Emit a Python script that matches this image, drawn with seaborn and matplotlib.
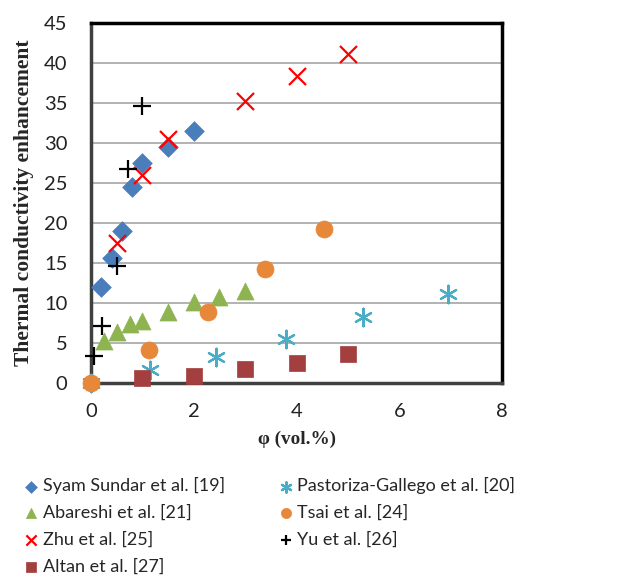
import numpy as np
import pandas as pd
import matplotlib
matplotlib.use("Agg")
import matplotlib.pyplot as plt
import seaborn as sns

# data
syam_x = [0.2, 0.4, 0.6, 0.8, 1.0, 1.5, 2.0]
syam_y = [12.0, 15.6, 19.0, 24.5, 27.5, 29.5, 31.5]

pastoriza_x = [0.0, 1.15, 2.43, 3.8, 5.3, 6.95]
pastoriza_y = [0.0, 1.6, 3.3, 5.5, 8.3, 11.2]

abareshi_x = [0.25, 0.5, 0.75, 1.0, 1.5, 2.0, 2.5, 3.0]
abareshi_y = [5.3, 6.4, 7.4, 7.8, 8.9, 10.1, 10.8, 11.5]

tsai_x = [0.0, 1.13, 2.27, 3.38, 4.53]
tsai_y = [0.0, 4.1, 8.9, 14.3, 19.3]

zhu_x = [0.5, 1.0, 1.5, 3.0, 4.0, 5.0]
zhu_y = [17.5, 26.0, 30.5, 35.3, 38.4, 41.1]

yu_x = [0.05, 0.22, 0.5, 0.72, 1.0]
yu_y = [3.4, 7.1, 14.6, 26.8, 34.6]

altan_x = [1.0, 2.0, 3.0, 4.0, 5.0]
altan_y = [0.6, 0.9, 1.8, 2.5, 3.6]

series = [
    ("Syam Sundar et al. [19]", syam_x, syam_y, "D", "#4A7EBB", 100),
    ("Pastoriza-Gallego et al. [20]", pastoriza_x, pastoriza_y, (6, 2, 0), "#4BACC6", 160),
    ("Abareshi et al. [21]", abareshi_x, abareshi_y, "^", "#8DB450", 150),
    ("Tsai et al. [24]", tsai_x, tsai_y, "o", "#E6873A", 150),
    ("Zhu et al. [25]", zhu_x, zhu_y, "x", "#FF0000", 150),
    ("Yu et al. [26]", yu_x, yu_y, "+", "#000000", 150),
    ("Altan et al. [27]", altan_x, altan_y, "s", "#A33F3F", 140),
]

sns.set_style("white")
plt.rcParams['font.family'] = ['Lato', 'DejaVu Sans']

fig = plt.figure(figsize=(6.3, 5.77), dpi=100)
ax = fig.add_axes([0.1444, 0.336, 0.6526, 0.624])

# later series are drawn on top, like the original
for name, xs, ys, mk, col, sz in series:
    df = pd.DataFrame({'x': xs, 'y': ys})
    if mk in ("x", "+", (6, 2, 0)):
        sns.scatterplot(x='x', y='y', data=df, marker=mk, color=col, s=sz,
                        linewidth=1.6, ax=ax, label=name, zorder=3, clip_on=False)
    else:
        sns.scatterplot(x='x', y='y', data=df, marker=mk, color=col, s=sz,
                        edgecolor=col, linewidth=0.5, ax=ax, label=name, zorder=3,
                        clip_on=False)

ax.set_xlim(0, 8)
ax.set_ylim(0, 45)
ax.set_xticks([0, 2, 4, 6, 8])
ax.set_yticks(np.arange(0, 50, 5))
ax.yaxis.grid(True, color='#A6A6A6', linewidth=1.2)
ax.set_axisbelow(True)
for side in ['top', 'right']:
    ax.spines[side].set_color('black')
    ax.spines[side].set_linewidth(2.5)
for side in ['left', 'bottom']:
    ax.spines[side].set_color('#404040')
    ax.spines[side].set_linewidth(2.5)
ax.tick_params(axis='both', direction='out', length=5, width=1, color='#868686',
               labelsize=14.5, labelcolor='#222222')
ax.tick_params(axis='x', pad=9)
ax.tick_params(axis='y', pad=12)

ax.set_xlabel('φ (vol.%)', fontsize=13.8, fontweight='bold',
              family=['Liberation Serif', 'DejaVu Serif'], labelpad=8)
ax.set_ylabel('Thermal conductivity enhancement', fontsize=15.5, fontweight='bold',
              family=['Liberation Serif', 'DejaVu Serif'], labelpad=7)

# legend in two columns, filled column by column
h, l = ax.get_legend_handles_labels()
ax.get_legend().remove()
order = [0, 2, 4, 6, 1, 3, 5]
fig.legend([h[i] for i in order], [l[i] for i in order], loc='upper left',
           bbox_to_anchor=(0.028, 0.185), ncol=2, frameon=False, fontsize=13,
           handlelength=0.7, handletextpad=0.3, columnspacing=3.0,
           labelspacing=0.58, borderaxespad=0, markerscale=0.6)

fig.savefig('out.png', dpi=100)
